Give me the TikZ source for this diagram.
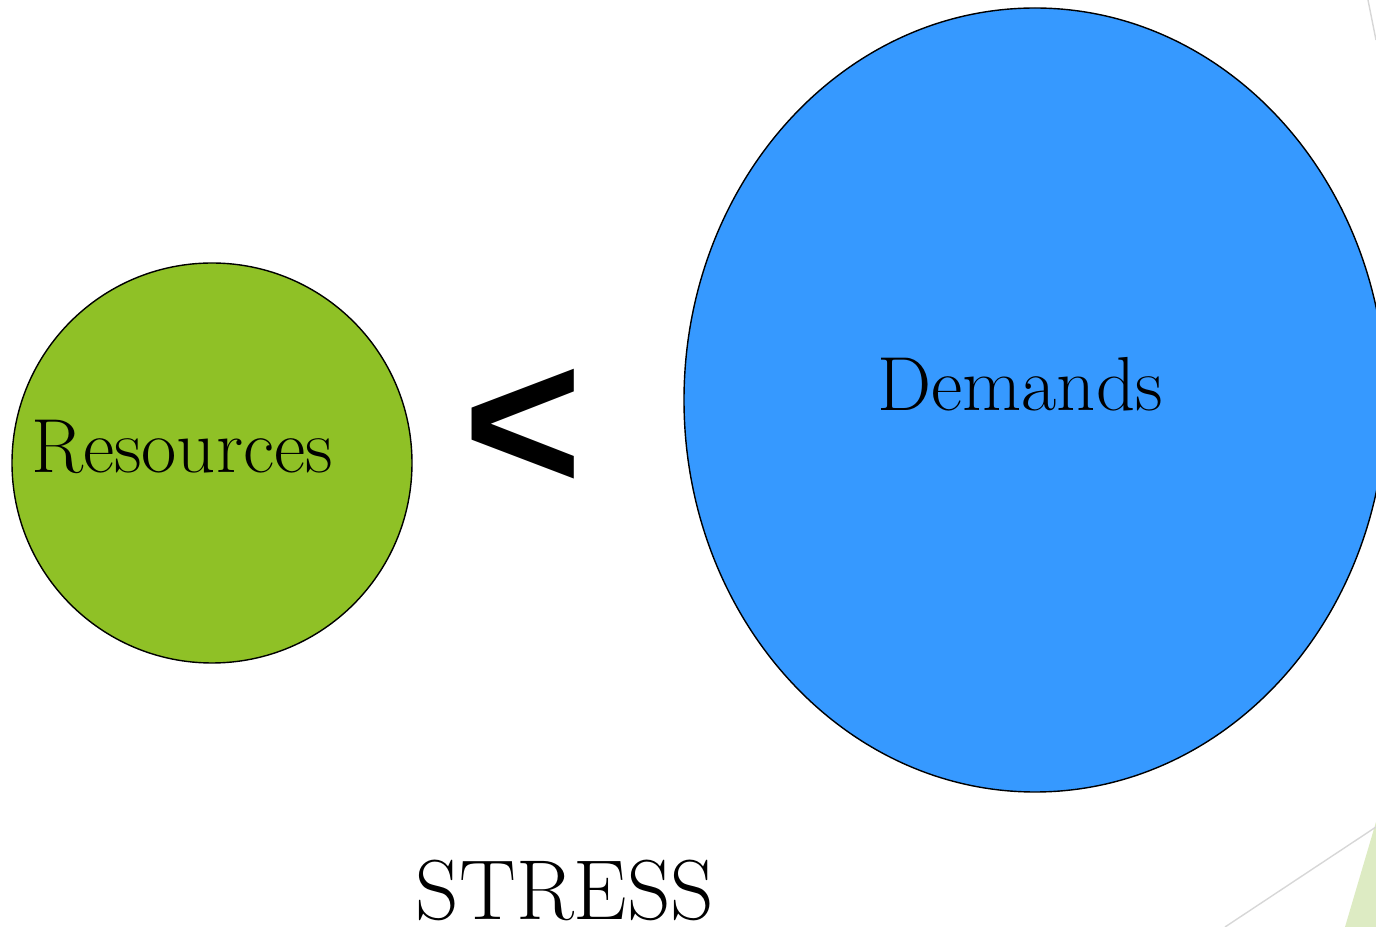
\documentclass[tikz,border=0pt]{standalone}
\usepackage{fontspec}
\newfontfamily\signfont{Liberation Sans}
\definecolor{resgreen}{RGB}{143,193,38}
\definecolor{demblue}{RGB}{54,153,255}
\definecolor{paleline}{RGB}{215,215,215}
\definecolor{palegreen}{RGB}{221,235,195}

\begin{document}
\begin{tikzpicture}
  \useasboundingbox (0,0) rectangle (13.76,-9.27);
  % corner decoration
  \fill[palegreen] (13.45,-9.27) -- (13.76,-8.22) -- (13.76,-9.27) -- cycle;
  \draw[paleline] (12.25,-9.27) -- (13.76,-8.27);
  \draw[paleline] (13.68,0) -- (13.76,-0.40);
  \node[circle,draw,fill=resgreen,minimum size=4cm,inner sep=0pt] (res) at (2.12,-4.63) {};
  \draw[draw,fill=demblue] (10.35,-4.0) ellipse (3.51cm and 3.92cm);
  \coordinate (dem) at (10.35,-4.0);
  \node (restext) at (1.82,-4.47) {\fontsize{21.8}{26}\selectfont Resources};
  \node (demtext) at (10.20,-3.84) {\fontsize{21.8}{26}\selectfont Demands};
  \node (less) at (5.235,-4.30) {\signfont\bfseries\fontsize{58}{62}\selectfont <};
  \node[inner sep=0pt] (stress) at (5.65,-8.90) {\fontsize{24.2}{29}\selectfont STRESS};
\end{tikzpicture}
\end{document}
